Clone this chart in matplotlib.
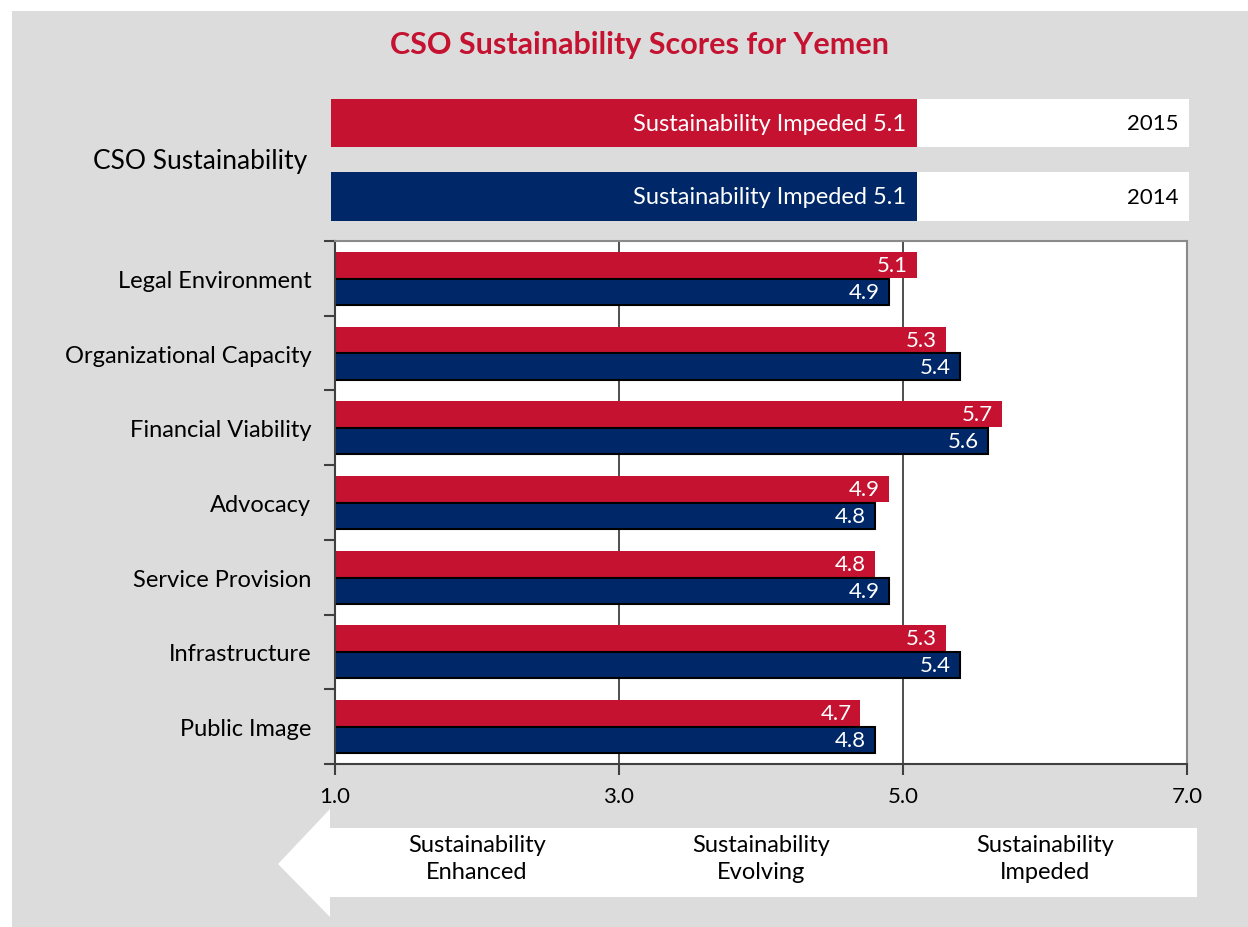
import matplotlib.pyplot as plt
from matplotlib.patches import Polygon, Rectangle
from matplotlib.transforms import blended_transform_factory

plt.rcParams["font.family"] = "Lato"

categories = ["Legal Environment", "Organizational Capacity", "Financial Viability",
              "Advocacy", "Service Provision", "Infrastructure", "Public Image"]
scores_2015 = [5.1, 5.3, 5.7, 4.9, 4.8, 5.3, 4.7]
scores_2014 = [4.9, 5.4, 5.6, 4.8, 4.9, 5.4, 4.8]
overall_years = ["2015", "2014"]
overall_scores = [5.1, 5.1]
overall_label = "Sustainability Impeded"
x_ticks = [1, 3, 5, 7]
scale_centers = [2, 4, 6]
scale_labels = ["Sustainability\nEnhanced", "Sustainability\nEvolving", "Sustainability\nImpeded"]

RED = "#C41230"
NAVY = "#002868"
BG = "#DCDCDC"

W, H = 1248, 928
fig = plt.figure(figsize=(W / 100, H / 100), dpi=100)
fig.patch.set_facecolor("white")


def box(l, t, r, b):
    # pixel box (from top-left) -> figure fraction rect
    return [l / W, 1 - b / H, (r - l) / W, (b - t) / H]


# full-figure overlay in pixel coordinates for the backdrop and arrow
over = fig.add_axes([0, 0, 1, 1])
over.set_xlim(0, W)
over.set_ylim(H, 0)
over.axis("off")
over.add_patch(Rectangle((12, 12), W - 12, H - 12, facecolor=BG, edgecolor="none"))
arrow = [(1197, 829), (330, 829), (330, 810), (278, 865), (330, 918),
         (330, 898), (1197, 898)]
over.add_patch(Polygon(arrow, closed=True, facecolor="white", edgecolor="none"))

fig.text(640 / W, 1 - 45 / H, "CSO Sustainability Scores for Yemen", ha="center",
         va="center", color=RED, fontsize=22, fontweight="bold")

# overall score panel
tax = fig.add_axes(box(331, 100, 1189, 222))
tax.set_xlim(1, 7)
tax.set_ylim(1.333, -0.3265)
tax.axis("off")
for i, (yr, sc) in enumerate(zip(overall_years, overall_scores)):
    c = RED if i == 0 else NAVY
    tax.barh(i, 6, left=1, height=0.66, color="white")
    tax.barh(i, sc - 1, left=1, height=0.66, color=c)
    tax.annotate(f"{overall_label} {sc:.1f}", (sc, i), xytext=(-11, 0),
                 textcoords="offset pixels", ha="right", va="center",
                 color="white", fontsize=17)
    tax.annotate(yr, (7, i), xytext=(-10, 0), textcoords="offset pixels",
                 ha="right", va="center", color="black", fontsize=16)
fig.text(307 / W, 1 - 162 / H, "CSO Sustainability", ha="right", va="center",
         fontsize=19, color="black")

# dimension scores
ax = fig.add_axes(box(335, 242, 1187, 765))
ax.set_facecolor("white")
n = len(categories)
rows = list(range(n))
ax.set_xlim(1, 7)
ax.set_ylim(n - 0.5, -0.5)
for x in (3, 5):
    ax.axvline(x, color="#303030", lw=1.2, zorder=0)

ax.barh([r - 0.18 for r in rows], [s - 1 for s in scores_2015], left=1,
        height=0.35, color=RED, zorder=2)
ax.barh([r + 0.18 for r in rows], [s - 1 for s in scores_2014], left=1,
        height=0.35, color=NAVY, edgecolor="black", linewidth=1.5, zorder=2)
for r, a, b in zip(rows, scores_2015, scores_2014):
    ax.annotate(f"{a:.1f}", (a, r - 0.18), xytext=(-9, 0), textcoords="offset pixels",
                ha="right", va="center", color="white", fontsize=16, zorder=3)
    ax.annotate(f"{b:.1f}", (b, r + 0.18), xytext=(-9, 0), textcoords="offset pixels",
                ha="right", va="center", color="white", fontsize=16, zorder=3)

for side in ("left", "bottom"):
    ax.spines[side].set_color("#404040")
    ax.spines[side].set_linewidth(1.5)
for side in ("top", "right"):
    ax.spines[side].set_color("#8a8a8a")
    ax.spines[side].set_linewidth(1.5)

ax.set_xticks(x_ticks)
ax.set_xticklabels([f"{t:.1f}" for t in x_ticks], fontsize=16)
ax.tick_params(axis="x", length=8, width=1.5, color="#404040", pad=8)
ax.set_yticks([r - 0.5 for r in range(n + 1)])
ax.set_yticklabels([])
ax.tick_params(axis="y", which="major", length=8, width=1.5, color="#404040")
ax.set_yticks(rows, minor=True)
ax.set_yticklabels(categories, minor=True, fontsize=17)
ax.tick_params(axis="y", which="minor", length=0, pad=17)

# scale legend under the axis
tr = blended_transform_factory(ax.transData, over.transData)
for xc, lab in zip(scale_centers, scale_labels):
    over.text(xc, 859, lab, transform=tr, ha="center", va="center",
              fontsize=17, linespacing=1.4)

fig.savefig("out.png", dpi=100, facecolor=fig.get_facecolor())
